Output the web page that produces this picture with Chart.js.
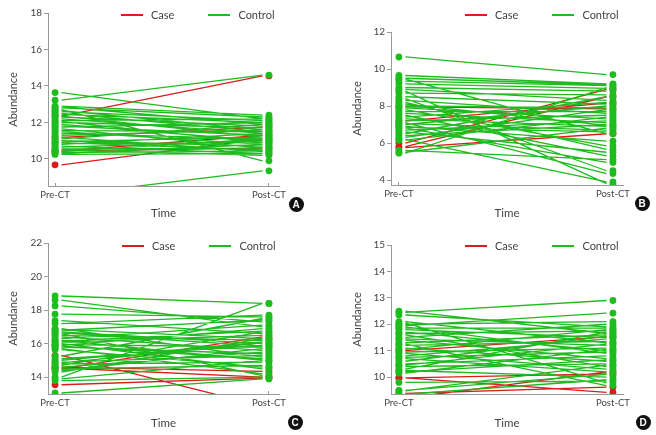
<!DOCTYPE html>
<html>
<head>
<meta charset="utf-8">
<script src="https://cdn.jsdelivr.net/npm/chart.js@4.4.0/dist/chart.umd.min.js"></script>
<style>
  body { margin: 0; background: #fff; }
  #page { position: relative; width: 656px; height: 435px; overflow: hidden;
    font-family: Lato, 'DejaVu Sans Condensed', sans-serif; }
  canvas { position: absolute; }
  .legend { position: absolute; display: flex; align-items: center; font-size: 11px;
    color: #444; line-height: 14px; white-space: nowrap; }
  .legend .item { display: flex; align-items: center; margin-right: 34px; }
  .legend .item:last-child { margin-right: 0; }
  .legend .swatch { display: inline-block; width: 22px; height: 1.5px; margin-right: 8px; }
  .tag { position: absolute; width: 15px; height: 15px; border-radius: 50%; background: #111;
    color: #fff; font: bold 10px 'Liberation Sans', Arial, sans-serif; text-align: center; line-height: 15px; }
</style>
</head>
<body>
<div id="page">
  <canvas id="chartA" width="328" height="222" style="left:0;top:0"></canvas>
  <canvas id="chartB" width="328" height="222" style="left:328px;top:0"></canvas>
  <canvas id="chartC" width="328" height="217" style="left:0;top:218px"></canvas>
  <canvas id="chartD" width="328" height="217" style="left:328px;top:218px"></canvas>
</div>
<script>
// etiquetas comunes
const X_LABELS = ["Pre-CT", "Post-CT"];
const LEGEND_LABELS = ["Case", "Control"];
const X_TITLE = "Time";
const Y_TITLE = "Abundance";

// panel A
const A_Y_TICKS = [10, 12, 14, 16, 18];
const A_CONTROL_PRE = [13.64, 13.22, 12.9, 12.85, 12.8, 12.7, 12.65, 12.6, 12.5, 12.45, 12.35, 12.3, 12.2, 12.1, 12.05, 12.0, 11.9, 11.8, 11.75, 11.65, 11.55, 11.5, 11.4, 11.3, 11.2, 11.1, 11.0, 10.95, 10.9, 10.85, 10.8, 10.7, 10.65, 10.55, 10.5, 10.4, 10.35, 10.3, 10.25, 8.0];
const A_CONTROL_POST = [12.2, 14.6, 12.4, 11.9, 12.3, 9.9, 11.6, 12.1, 11.5, 12.0, 11.2, 11.8, 11.4, 12.2, 10.9, 11.7, 11.0, 11.3, 12.0, 10.6, 11.5, 10.8, 11.1, 11.6, 10.4, 11.9, 10.7, 11.2, 10.5, 10.9, 11.4, 10.3, 11.0, 10.6, 10.2, 11.1, 10.45, 10.8, 10.3, 9.35];
const A_CASE_PRE = [12.35, 11.18, 10.45, 10.43, 9.68];
const A_CASE_POST = [14.55, 11.75, 10.6, 11.3, 11.1];

// panel B
const B_Y_TICKS = [4, 6, 8, 10, 12];
const B_CONTROL_PRE = [10.65, 9.65, 9.5, 9.35, 9.2, 9.0, 8.9, 8.8, 8.7, 8.5, 8.4, 8.3, 8.2, 8.1, 8.0, 7.9, 7.8, 7.7, 7.6, 7.5, 7.4, 7.3, 7.2, 7.1, 7.05, 7.0, 6.9, 6.85, 6.8, 6.7, 6.6, 6.5, 6.4, 6.3, 6.2, 6.15, 5.6, 5.5, 5.45, 9.45];
const B_CONTROL_POST = [9.7, 9.2, 9.15, 9.1, 8.95, 8.8, 8.3, 3.8, 8.6, 8.1, 4.5, 7.6, 5.65, 6.95, 7.9, 7.3, 5.85, 7.7, 7.1, 5.3, 8.2, 6.9, 7.5, 4.35, 6.7, 8.0, 6.1, 6.6, 4.95, 7.2, 5.5, 8.5, 7.0, 7.8, 3.9, 7.4, 5.1, 6.8, 9.0, 6.5];
const B_CASE_PRE = [7.95, 7.2, 6.0, 5.8, 5.75];
const B_CASE_POST = [7.85, 8.15, 8.9, 8.5, 6.5];

// panel C
const C_Y_TICKS = [14, 16, 18, 20, 22];
const C_CONTROL_PRE = [18.84, 18.6, 18.25, 17.76, 17.37, 17.2, 16.9, 16.85, 16.8, 16.7, 16.65, 16.6, 16.5, 16.4, 16.3, 16.2, 16.15, 16.1, 16.0, 15.95, 15.9, 15.85, 15.8, 15.7, 15.65, 15.25, 15.1, 15.0, 14.9, 14.85, 14.8, 14.7, 14.6, 14.5, 14.4, 14.3, 14.0, 13.9, 13.8, 13.06];
const C_CONTROL_POST = [18.4, 17.0, 17.3, 17.6, 16.6, 17.7, 15.2, 16.3, 17.4, 16.0, 15.85, 14.1, 16.2, 15.6, 17.1, 15.0, 16.75, 16.5, 14.5, 15.8, 16.9, 15.1, 15.4, 14.2, 14.6, 17.5, 15.9, 16.1, 15.3, 16.05, 14.9, 16.7, 15.5, 14.7, 15.7, 16.3, 18.4, 15.0, 14.0, 13.9];
const C_CASE_PRE = [15.3, 14.6, 14.5, 14.55, 13.55];
const C_CASE_POST = [12.27, 14.35, 16.4, 14.0, 13.95];

// panel D
const D_Y_TICKS = [10, 11, 12, 13, 14, 15];
const D_CONTROL_PRE = [12.45, 12.5, 12.35, 12.1, 12.05, 12.0, 11.95, 11.9, 11.85, 11.8, 11.7, 11.65, 11.6, 11.5, 11.45, 11.4, 11.3, 11.25, 11.2, 11.1, 11.05, 10.95, 10.9, 10.8, 10.75, 10.7, 10.6, 10.5, 10.45, 10.4, 10.3, 10.25, 10.2, 10.15, 9.8, 9.5, 9.48, 9.35];
const D_CONTROL_POST = [12.9, 11.65, 11.9, 11.3, 9.78, 12.1, 12.42, 10.9, 11.85, 11.5, 11.0, 11.75, 10.4, 12.0, 11.2, 10.7, 11.6, 9.68, 11.35, 10.6, 11.8, 11.1, 10.3, 11.45, 10.95, 10.2, 11.55, 10.8, 11.25, 10.5, 11.7, 10.0, 10.65, 11.05, 9.85, 10.1, 10.45, 9.9];
const D_CASE_PRE = [11.0, 9.97, 9.2, 9.38, 9.97];
const D_CASE_POST = [11.52, 10.12, 10.2, 9.62, 9.42];

// estilos
const RED = "#dc1c1c";
const GREEN_LINE = "#1fbb1f";
const GREEN_DOT = "#1ebd1e";
const AXIS = "#9a9a9a";
const TEXT = "#444";
const FONT = "Lato, 'DejaVu Sans Condensed', sans-serif";
// las líneas empiezan un poco después de los puntos
const LINE_START = 0.03;
const LINE_END = 0.97;

// pares pre/post como segmentos separados por huecos
function segments(pre, post) {
  const pts = [];
  pre.forEach((v, i) => {
    pts.push({ x: LINE_START, y: v }, { x: LINE_END, y: post[i] }, { x: LINE_END, y: null });
  });
  return pts;
}

function dots(pre, post) {
  return pre.map((v) => ({ x: 0, y: v })).concat(post.map((v) => ({ x: 1, y: v })));
}

function renderPanel(p) {
  const ctx = document.getElementById(p.id).getContext("2d");
  new Chart(ctx, {
    type: "line",
    data: {
      datasets: [
        { label: "control-dots", data: dots(p.controlPre, p.controlPost), showLine: false,
          pointRadius: 3.4, pointBackgroundColor: GREEN_DOT, pointBorderWidth: 0, order: 0 },
        { label: "case-dots", data: dots(p.casePre, p.casePost), showLine: false,
          pointRadius: 3.4, pointBackgroundColor: RED, pointBorderWidth: 0, order: 1 },
        { label: LEGEND_LABELS[1], data: segments(p.controlPre, p.controlPost),
          borderColor: GREEN_LINE, borderWidth: 1.3, pointRadius: 0, spanGaps: false, order: 2 },
        { label: LEGEND_LABELS[0], data: segments(p.casePre, p.casePost),
          borderColor: RED, borderWidth: 1.3, pointRadius: 0, spanGaps: false, order: 3 },
      ],
    },
    options: {
      responsive: false,
      animation: false,
      layout: { padding: p.padding },
      plugins: { legend: { display: false }, tooltip: { enabled: false } },
      scales: {
        x: {
          type: "linear",
          min: p.xMin,
          max: p.xMax,
          afterBuildTicks: (s) => { s.ticks = X_LABELS.map((t, i) => ({ value: i })); },
          afterFit: (s) => { s.height = p.xHeight; },
          ticks: { callback: (v, i) => X_LABELS[i], color: TEXT, font: { family: FONT, size: 9.5 },
            padding: 6, maxRotation: 0, autoSkip: false },
          grid: { drawOnChartArea: false, tickLength: -3, color: AXIS },
          border: { color: AXIS },
          title: { display: true, text: X_TITLE, color: TEXT, font: { family: FONT, size: 11.5 },
            padding: { top: 0, bottom: p.xTitlePad } },
        },
        y: {
          min: p.yMin,
          max: p.yMax,
          afterBuildTicks: (s) => { s.ticks = p.yTicks.map((v) => ({ value: v })); },
          afterFit: (s) => { s.width = p.yWidth; },
          ticks: { color: TEXT, font: { family: FONT, size: 10 }, padding: 2 },
          grid: { drawOnChartArea: false, tickLength: 4, color: AXIS },
          border: { color: AXIS },
          title: { display: true, text: Y_TITLE, color: TEXT, font: { family: FONT, size: 11 },
            padding: { top: 7, bottom: 0 } },
        },
      },
    },
  });

  // leyenda y letra del panel (coordenadas de página)
  const page = document.getElementById("page");
  const leg = document.createElement("div");
  leg.className = "legend";
  leg.style.left = p.legend[0] + "px";
  leg.style.top = p.legend[1] - 7 + "px";
  [RED, GREEN_LINE].forEach((c, i) => {
    const item = document.createElement("span");
    item.className = "item";
    item.innerHTML = '<span class="swatch" style="background:' + c + '"></span>' + LEGEND_LABELS[i];
    leg.appendChild(item);
  });
  page.appendChild(leg);
  const tag = document.createElement("div");
  tag.className = "tag";
  tag.textContent = p.tag;
  tag.style.left = p.tagPos[0] - 7.5 + "px";
  tag.style.top = p.tagPos[1] - 7.5 + "px";
  page.appendChild(tag);
}

renderPanel({ id: "chartA", tag: "A", tagPos: [296, 204], legend: [121, 15],
  controlPre: A_CONTROL_PRE, controlPost: A_CONTROL_POST, casePre: A_CASE_PRE, casePost: A_CASE_POST,
  yMin: 8.52, yMax: 18, yTicks: A_Y_TICKS, xMin: -0.033, xMax: 1.047,
  padding: { left: 0, top: 13, right: 49, bottom: 0 }, yWidth: 48, xHeight: 36, xTitlePad: 2 });
renderPanel({ id: "chartB", tag: "B", tagPos: [642, 203], legend: [465, 15],
  controlPre: B_CONTROL_PRE, controlPost: B_CONTROL_POST, casePre: B_CASE_PRE, casePost: B_CASE_POST,
  yMin: 3.73, yMax: 12, yTicks: B_Y_TICKS, xMin: -0.037, xMax: 1.047,
  padding: { left: 16, top: 32, right: 33, bottom: 0 }, yWidth: 47, xHeight: 37, xTitlePad: 2 });
renderPanel({ id: "chartC", tag: "C", tagPos: [295, 422], legend: [122, 246],
  controlPre: C_CONTROL_PRE, controlPost: C_CONTROL_POST, casePre: C_CASE_PRE, casePost: C_CASE_POST,
  yMin: 13.0, yMax: 22, yTicks: C_Y_TICKS, xMin: -0.033, xMax: 1.047,
  padding: { left: 0, top: 25, right: 49, bottom: 0 }, yWidth: 48, xHeight: 41, xTitlePad: 5 });
renderPanel({ id: "chartD", tag: "D", tagPos: [643, 422], legend: [465, 246],
  controlPre: D_CONTROL_PRE, controlPost: D_CONTROL_POST, casePre: D_CASE_PRE, casePost: D_CASE_POST,
  yMin: 9.36, yMax: 15, yTicks: D_Y_TICKS, xMin: -0.037, xMax: 1.047,
  padding: { left: 16, top: 27, right: 33, bottom: 0 }, yWidth: 47, xHeight: 41, xTitlePad: 5 });
</script>
</body>
</html>
